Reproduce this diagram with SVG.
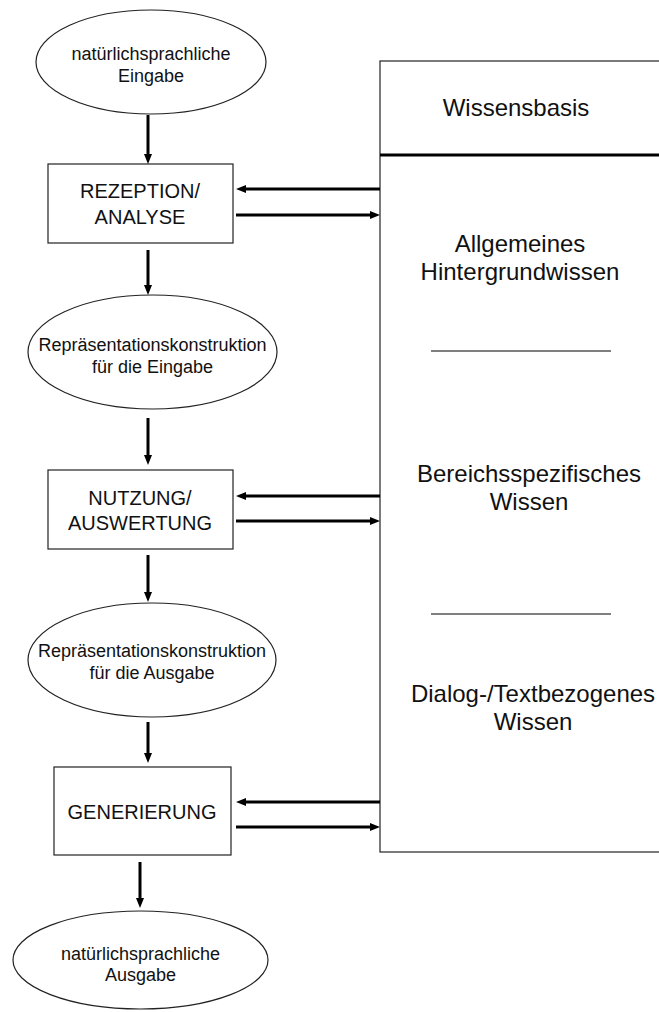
<svg xmlns="http://www.w3.org/2000/svg" width="659" height="1012" viewBox="0 0 659 1012">
  <style>
    .shape { fill: #fff; stroke: #222; stroke-width: 1.2; }
    .conn { fill: none; stroke: #000; stroke-width: 3; }
    .sep { stroke: #555; stroke-width: 1.5; }
    text { font-family: "Liberation Sans", Arial, sans-serif; fill: #111; text-anchor: middle; }
    .e { font-size: 18px; }
    .b { font-size: 20px; }
    .k { font-size: 24px; }
  </style>
  <defs>
    <marker id="head" markerWidth="10" markerHeight="8" refX="5" refY="4" orient="auto" markerUnits="userSpaceOnUse">
      <path d="M0,0 L10,4 L0,8 Z" fill="#000"/>
    </marker>
  </defs>
  <rect width="659" height="1012" fill="#fff"/>

  <!-- knowledge base panel -->
  <g id="wissensbasis">
    <rect class="shape" x="380" y="61" width="300" height="791"/>
    <line x1="380" y1="155" x2="659" y2="155" stroke="#000" stroke-width="3"/>
    <text class="k" x="516" y="116">Wissensbasis</text>
    <text class="k" x="520" y="252">Allgemeines</text>
    <text class="k" x="520" y="280">Hintergrundwissen</text>
    <line class="sep" x1="431" y1="351" x2="611" y2="351"/>
    <text class="k" x="529" y="482">Bereichsspezifisches</text>
    <text class="k" x="529" y="510">Wissen</text>
    <line class="sep" x1="431" y1="614" x2="611" y2="614"/>
    <text class="k" x="533" y="702">Dialog-/Textbezogenes</text>
    <text class="k" x="533" y="730">Wissen</text>
  </g>

  <g id="eingabe">
    <ellipse class="shape" cx="151" cy="62" rx="115" ry="52"/>
    <text class="e" x="151" y="60">natürlichsprachliche</text>
    <text class="e" x="151" y="82">Eingabe</text>
  </g>

  <g id="rezeption">
    <rect class="shape" x="48" y="164" width="185" height="79"/>
    <text class="b" x="140" y="198">REZEPTION/</text>
    <text class="b" x="140" y="224">ANALYSE</text>
  </g>

  <g id="repr-eingabe">
    <ellipse class="shape" cx="152.5" cy="352" rx="124.5" ry="57"/>
    <text class="e" x="152.5" y="351">Repräsentationskonstruktion</text>
    <text class="e" x="152.5" y="373">für die Eingabe</text>
  </g>

  <g id="nutzung">
    <rect class="shape" x="48" y="470" width="185" height="79"/>
    <text class="b" x="140" y="505">NUTZUNG/</text>
    <text class="b" x="140" y="530">AUSWERTUNG</text>
  </g>

  <g id="repr-ausgabe">
    <ellipse class="shape" cx="152" cy="660" rx="124" ry="57"/>
    <text class="e" x="152" y="657">Repräsentationskonstruktion</text>
    <text class="e" x="152" y="679">für die Ausgabe</text>
  </g>

  <g id="generierung">
    <rect class="shape" x="54" y="767" width="177" height="88"/>
    <text class="b" x="142" y="819">GENERIERUNG</text>
  </g>

  <g id="ausgabe">
    <ellipse class="shape" cx="140.5" cy="960" rx="127.5" ry="49"/>
    <text class="e" x="140.5" y="960">natürlichsprachliche</text>
    <text class="e" x="140.5" y="981">Ausgabe</text>
  </g>

  <!-- connectors: lines stop 5px short, the marker carries the tip -->
  <g id="connectors">
    <path class="conn" marker-end="url(#head)" d="M148,115 V159"/>
    <path class="conn" marker-end="url(#head)" d="M148,250 V290"/>
    <path class="conn" marker-end="url(#head)" d="M148,418 V460"/>
    <path class="conn" marker-end="url(#head)" d="M148,555 V597"/>
    <path class="conn" marker-end="url(#head)" d="M148,722 V758"/>
    <path class="conn" marker-end="url(#head)" d="M140,862 V903"/>

    <path class="conn" marker-end="url(#head)" d="M380,189 H241"/>
    <path class="conn" marker-end="url(#head)" d="M236,215 H375"/>
    <path class="conn" marker-end="url(#head)" d="M380,496 H241"/>
    <path class="conn" marker-end="url(#head)" d="M236,521 H375"/>
    <path class="conn" marker-end="url(#head)" d="M380,802 H241"/>
    <path class="conn" marker-end="url(#head)" d="M236,827 H375"/>
  </g>
</svg>
